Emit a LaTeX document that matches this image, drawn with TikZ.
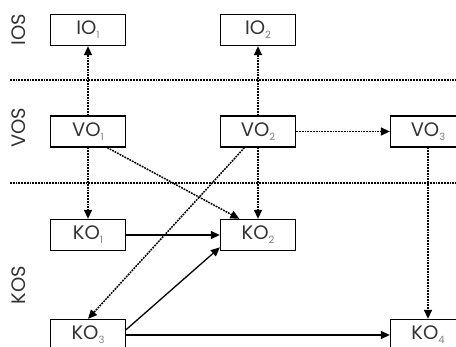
\documentclass[tikz,border=0pt]{standalone}
\usepackage{fontspec}
\setmainfont{Poppins}
\usetikzlibrary{arrows.meta}

\newcommand{\objname}[2]{#1\raisebox{-4pt}{\fontsize{10}{10}\selectfont\color{gray}#2}}

\begin{document}
\begin{tikzpicture}[x=1pt,y=-1pt,
  obj/.style={draw, line width=1.3pt, minimum width=75pt, minimum height=31pt,
    inner sep=0pt, text=black!80, font=\fontsize{19.5}{20}\selectfont},
  lvl/.style={rotate=90, text=black!80, font=\fontsize{19.5}{20}\selectfont},
  dep/.style={dash pattern=on 1.8pt off 1pt, line width=1.5pt,
    -{Triangle[length=9pt,width=8pt]}},
  flow/.style={line width=1.3pt, -{Triangle[length=9pt,width=8pt]}},
  sep/.style={dash pattern=on 1.8pt off 1pt, line width=1.5pt}]

\useasboundingbox (0,0) rectangle (456,347);
\clip (0,0) rectangle (456,347);

% levels
\node [lvl] (ios) at (19,30) {IOS};
\node [lvl] (vos) at (19,128) {VOS};
\node [lvl] (kos) at (19,285) {KOS};
\draw [sep] (10,80) -- (456,80);
\draw [sep] (10,183) -- (456,183);

% objects
\node [obj] (IO1) at (88,30) {\objname{IO}{1}};
\node [obj] (IO2) at (258,30) {\objname{IO}{2}};
\node [obj] (VO1) at (88,131.5) {\objname{VO}{1}};
\node [obj] (VO2) at (258,131.5) {\objname{VO}{2}};
\node [obj] (VO3) at (428,131.5) {\objname{VO}{3}};
\node [obj] (KO1) at (88,235) {\objname{KO}{1}};
\node [obj] (KO2) at (258,235) {\objname{KO}{2}};
\node [obj] (KO3) at (88,335) {\objname{KO}{3}};
\node [obj] (KO4) at (428,335) {\objname{KO}{4}};

% dependencies
\draw [dep] (VO1) -- (IO1);
\draw [dep] (VO2) -- (IO2);
\draw [dep] (VO2) -- (VO3);
\draw [dep] (VO1) -- (KO1);
\draw [dep] (VO1.-40) -- (KO2.139);
\draw [dep] (VO2) -- (KO2);
\draw [dep] (VO2.230) -- (KO3.north);
\draw [dep] (VO3) -- (KO4);
\draw [flow] (KO1) -- (KO2);
\draw [flow] (KO3.8) -- (KO2.198);
\draw [flow] (KO3) -- (KO4);

\end{tikzpicture}
\end{document}
